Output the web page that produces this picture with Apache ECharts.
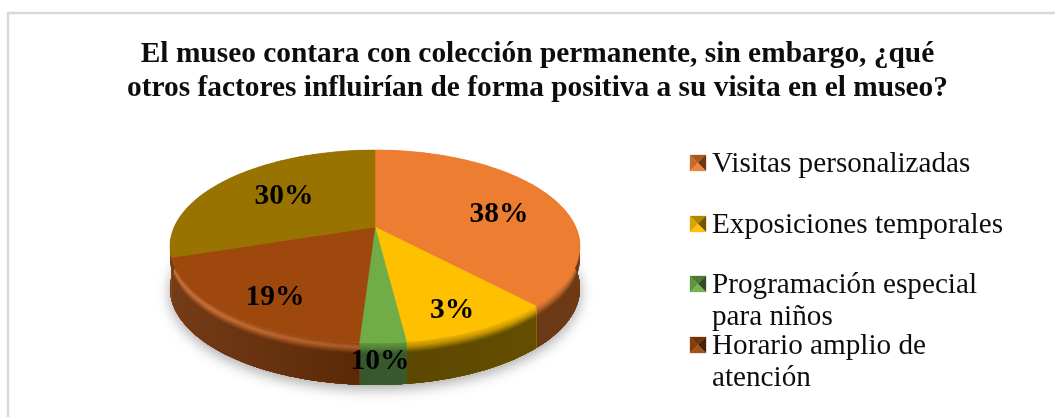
<!DOCTYPE html>
<html>
<head>
<meta charset="utf-8">
<style>html,body{margin:0;padding:0;background:#fff;overflow:hidden}#c{width:1055px;height:417px}</style>
<script src="https://cdn.jsdelivr.net/npm/echarts@6/dist/echarts.min.js"></script>
</head>
<body>
<div id="c"></div>
<script>
const titleText = 'El museo contara con colección permanente, sin embargo, ¿qué\notros factores influirían de forma positiva a su visita en el museo?';
const categories = ['Visitas personalizadas', 'Exposiciones temporales', 'Programación especial\npara niños', 'Horario amplio de\natención', ''];
const sliceValues = [38, 10, 3, 19, 30];
const sliceLabels = ['38%', '3%', '10%', '19%', '30%'];

const faceColors = ['#ED7D31', '#FFC000', '#70AD47', '#9E480E', '#997300'];
const rimColors  = ['#C46A2C', '#D9A400', '#5F9A3C', '#CF6C2C', '#CF6C2C'];
const sideColors = ['#6E3A16', '#665000', '#3F6533', '#6B3008', '#6B3008'];

// Projection of the tilted disc
const CX = 375, K = 0.202, A = 200.8, B0 = 46.7, B1 = 227, DEPTH = 42;
const labelAnchors = [[499, 214], [452, 310], [380, 361], [275, 297], [284, 196]];
const legendRows = [163, 224, 284, 345];

function project(theta, r, lift) {
  const u = r * Math.sin(theta), v = -r * Math.cos(theta), w = 1 - K * v;
  return [CX + A * u / w, (B0 * v + B1) / w + lift];
}
function arc(a0, a1, lift) {
  const n = Math.max(2, Math.ceil((a1 - a0) / (Math.PI / 120))), pts = [];
  for (let i = 0; i <= n; i++) pts.push(project(a0 + (a1 - a0) * i / n, 1, lift));
  return pts;
}
function hex(c) { return [1, 3, 5].map(i => parseInt(c.substr(i, 2), 16)); }
function mixHex(c1, c2, t) {
  const a = hex(c1), b = hex(c2);
  return '#' + a.map((x, i) => Math.round(x + (b[i] - x) * t).toString(16).padStart(2, '0')).join('');
}
const total = sliceValues.reduce((a, b) => a + b, 0);
const starts = [];
sliceValues.reduce((acc, v, i) => { starts[i] = acc; return acc + v; }, 0);

const stripStops = [0, 1, 2, 3, 4, 5, 6, 7, 8, 9, 10, 11, 12];
function stripColor(i, lift) {
  const t = lift / DEPTH;
  if (t < 0.1) return mixHex(faceColors[i], rimColors[i], t / 0.1);
  if (t < 0.26) return mixHex(rimColors[i], sideColors[i], (t - 0.1) / 0.16);
  return sideColors[i];
}

function renderItem(params, api) {
  const i = params.dataIndex;
  const a0 = starts[i] / total * 2 * Math.PI;
  const a1 = a0 + api.value(0) / total * 2 * Math.PI;
  const children = [];

  if (i === 0) {
    children.push({
      type: 'polygon', z2: 0,
      shape: { points: arc(0, 2 * Math.PI, DEPTH - 1) },
      style: { fill: '#999', shadowBlur: 14, shadowColor: 'rgba(0,0,0,0.35)', shadowOffsetY: 5 }
    });
  }
  // painter's order: every strip runs down to the bottom edge, so no seams appear
  stripStops.forEach(l0 => {
    const col = stripColor(i, l0 + 0.5);
    const fill = new echarts.graphic.LinearGradient(170, 0, 580, 0, [
      { offset: 0, color: mixHex(col, '#ffffff', 0.06) },
      { offset: 0.45, color: mixHex(col, '#000000', 0.14) },
      { offset: 1, color: col }
    ], true);
    const pts = arc(a0, a1, l0).concat(arc(a0, a1, DEPTH).reverse());
    children.push({ type: 'polygon', z2: 1, shape: { points: pts }, style: { fill: fill } });
  });
  children.push({
    type: 'polygon', z2: 2,
    shape: { points: [project(0, 0, 0)].concat(arc(a0, a1, 0)) },
    style: { fill: faceColors[i], stroke: faceColors[i], lineWidth: 0.5 }
  });
  children.push({
    type: 'text', z2: 5, x: labelAnchors[i][0], y: labelAnchors[i][1],
    style: { text: sliceLabels[i], fill: '#000', font: 'bold 29.5px "Liberation Serif"', align: 'center', verticalAlign: 'middle' }
  });

  if (i < legendRows.length) {
    const y = legendRows[i], x0 = 690, s = 16, base = faceColors[i];
    const c = [x0 + s / 2, y], tl = [x0, y - s / 2], tr = [x0 + s, y - s / 2], bl = [x0, y + s / 2], br = [x0 + s, y + s / 2];
    const tri = (p, q, col) => ({ type: 'polygon', z2: 3, shape: { points: [p, q, c] }, style: { fill: col, stroke: col, lineWidth: 0.3 } });
    children.push(tri(tl, tr, mixHex(base, '#000000', 0.3)));
    children.push(tri(tl, bl, mixHex(base, '#000000', 0.15)));
    children.push(tri(tr, br, mixHex(base, '#000000', 0.55)));
    children.push(tri(bl, br, mixHex(base, '#ffffff', 0.05)));
    children.push({
      type: 'text', z2: 4, x: 712, y: y - 14,
      style: { text: categories[i], fill: '#0d0d0d', font: '29.2px "Liberation Serif"', lineHeight: 31.5, align: 'left', verticalAlign: 'top' }
    });
  }
  return { type: 'group', children: children };
}

const chart = echarts.init(document.getElementById('c'), null, { renderer: 'canvas' });
chart.setOption({
  animation: false,
  backgroundColor: '#fff',
  title: {
    text: titleText, left: 532.5, top: 32, textAlign: 'center',
    textStyle: { fontFamily: '"Liberation Serif"', fontWeight: 'bold', fontSize: 29.4, lineHeight: 34, color: '#0d0d0d' }
  },
  graphic: [{
    type: 'rect', z: -1, silent: true,
    shape: { x: 8, y: 13, width: 1200, height: 600 },
    style: { fill: 'none', stroke: '#d9d9d9', lineWidth: 2.5 }
  }],
  series: [{
    type: 'custom', coordinateSystem: 'none', silent: true,
    renderItem: renderItem,
    data: sliceValues.map((v, i) => ({ name: categories[i], value: [v] }))
  }]
});
</script>
</body>
</html>
